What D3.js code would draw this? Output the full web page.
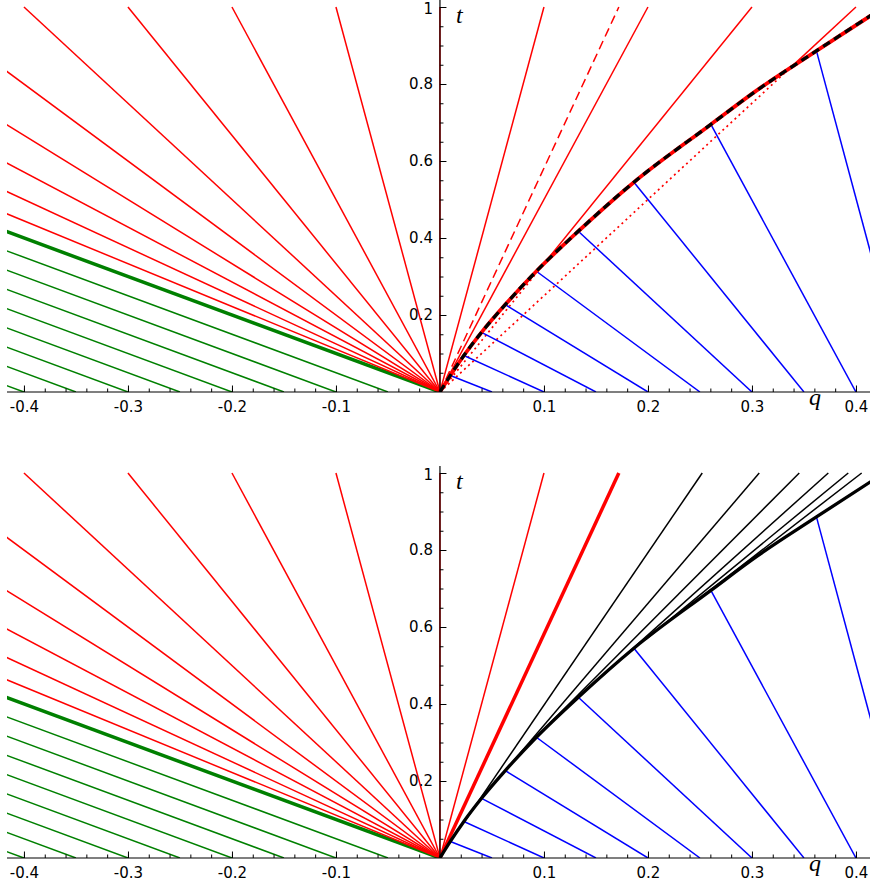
<!DOCTYPE html>
<html><head><meta charset="utf-8">
<script src="https://cdn.jsdelivr.net/npm/d3@7"></script>
<style>body{margin:0;background:#fff} svg{display:block}</style>
</head><body><svg id="c" width="870" height="888"></svg>
<script>
// ---------- data ----------
const xTickValues = [-0.4,-0.3,-0.2,-0.1,0.1,0.2,0.3,0.4];
const xTickLabels = ["-0.4","-0.3","-0.2","-0.1","0.1","0.2","0.3","0.4"];
const tTickValues = [0.2,0.4,0.6,0.8,1];
const tTickLabels = ["0.2","0.4","0.6","0.8","1"];

// green characteristics (foot on q axis -> point at t=1)
const greenFootX = [0,-0.05,-0.1,-0.15,-0.2,-0.25,-0.3,-0.35,-0.4];
const greenTopX  = [-1,-1.05,-1.1,-1.15,-1.2,-1.25,-1.3,-1.35,-1.4];

// red fan from origin, position reached at t=1
const fanTopX = [-0.9,-0.8,-0.7,-0.6,-0.5,-0.4,-0.3,-0.2,-0.1,0,0.1];
const topSolidTopX = [0.2];
const dashedTopX = [0.172];
// dotted rays from the origin up to the curve, then solid to t=1
const dottedMeetX = [0.099, 0.336];
const dottedMeetT = [0.33, 0.84];
const dottedTopX  = [0.3, 0.4];

// blue characteristics: foot on q axis -> point on the curve
const blueFootX = [0.05,0.1,0.15,0.2,0.25,0.3,0.35,0.4,0.45];
const blueEndX  = [0.0100,0.0230,0.0400,0.0628,0.0927,0.133,0.1865,0.2605,0.362];
const blueEndT  = [0.043,0.0948,0.155,0.227,0.3136,0.4175,0.545,0.695,0.886];

// curve (shock) points
const curveX = [0,0.0100,0.0230,0.0400,0.0628,0.0927,0.133,0.1865,0.2605,0.305,0.362,0.427];
const curveT = [0,0.043,0.0948,0.155,0.227,0.3136,0.4175,0.545,0.695,0.784,0.886,1.0];

// bottom panel
const boldRedTopX = [0.172];
const blackStartX = [0.0238,0.0574,0.1056,0.154,0.198,0.238];
const blackStartT = [0.0953,0.21,0.35,0.468,0.568,0.65];
const blackTopX   = [0.2522,0.307,0.3455,0.3734,0.3926,0.4055];

// ---------- drawing ----------
const svg = d3.select("#c");
const x = d3.scaleLinear().domain([-0.4163, 0.4135]).range([7, 870]);
const FONT = "'DejaVu Sans', sans-serif";

function seg(g, x0, t0, x1, t1, y, color, w, dash) {
  const l = g.append("line")
    .attr("x1", x(x0)).attr("y1", y(t0))
    .attr("x2", x(x1)).attr("y2", y(t1))
    .attr("stroke", color).attr("stroke-width", w);
  if (dash) l.attr("stroke-dasharray", dash);
  return l;
}

function panel(id, zeroY, drawContent) {
  const y = d3.scaleLinear().domain([0, 1]).range([zeroY, zeroY - 385]);
  const clipId = "clip" + id;
  svg.append("clipPath").attr("id", clipId).append("rect")
    .attr("x", 7).attr("y", y(1) - 3).attr("width", 870).attr("height", 385 + 3);
  const g = svg.append("g").attr("clip-path", `url(#${clipId})`);
  drawContent(g, y);

  // axes
  const ax = svg.append("g");
  const xMinor = d3.range(-40, 41, 2).map(v => v / 100);
  const tMinor = d3.range(1, 21).map(v => v / 20);
  const xa = ax.append("g").attr("transform", `translate(0,${y(0)})`);
  xa.call(d3.axisBottom(x).tickValues(xMinor).tickSizeInner(-3.5).tickSizeOuter(0).tickFormat(""));
  xa.call(g2 => g2.select(".domain").remove());
  const xa2 = ax.append("g").attr("transform", `translate(0,${y(0)})`);
  xa2.call(d3.axisBottom(x).tickValues(xTickValues).tickSizeInner(-6.5).tickSizeOuter(0).tickPadding(9)
      .tickFormat((d, i) => xTickLabels[i]));
  xa2.select(".domain").remove();
  const ya = ax.append("g").attr("transform", `translate(${x(0)},0)`);
  ya.call(d3.axisLeft(y).tickValues(tMinor).tickSizeInner(-3.5).tickSizeOuter(0).tickFormat(""));
  ya.select(".domain").remove();
  const ya2 = ax.append("g").attr("transform", `translate(${x(0)},0)`);
  ya2.call(d3.axisLeft(y).tickValues(tTickValues).tickSizeInner(-6.5).tickSizeOuter(0).tickPadding(7)
      .tickFormat((d, i) => tTickLabels[i]));
  ya2.select(".domain").remove();
  // keep the top label "1" fully inside the picture
  ya2.selectAll(".tick text").filter(d => d === 1).attr("dy", "0.42em");
  ax.selectAll(".tick line").attr("stroke", "#000").attr("stroke-width", 1);
  ax.selectAll(".tick text").attr("font-family", FONT).attr("font-size", 15).attr("fill", "#000");
  ax.append("line").attr("x1", 7).attr("x2", 870).attr("y1", y(0)).attr("y2", y(0))
    .attr("stroke", "#000").attr("stroke-width", 1.2);
  ax.append("line").attr("x1", x(0)).attr("x2", x(0)).attr("y1", y(0)).attr("y2", y(1.018))
    .attr("stroke", "#000").attr("stroke-width", 1.2);
  ax.append("text").attr("x", 456).attr("y", y(1.018) + 23)
    .attr("font-family", "'Liberation Serif', serif").attr("font-style", "italic")
    .attr("font-size", 24).text("t");
  ax.append("text").attr("x", 809).attr("y", y(0) + 13)
    .attr("font-family", "'Liberation Serif', serif").attr("font-style", "italic")
    .attr("font-size", 24).text("q");
}

const curveLine = (y) => d3.line()
  .x((d, i) => x(curveX[i])).y((d, i) => y(curveT[i]))
  .curve(d3.curveMonotoneX);

function common(g, y) {
  greenFootX.forEach((f, i) => seg(g, f, 0, greenTopX[i], 1, y, "#008000", i === 0 ? 3.5 : 1.5));
  fanTopX.forEach(c => seg(g, 0, 0, c, 1, y, "#ff0000", 1.5));
}
function blues(g, y) {
  blueFootX.forEach((f, i) => seg(g, f, 0, blueEndX[i], blueEndT[i], y, "#0000ff", 1.5));
}

panel("a", 392, (g, y) => {
  common(g, y);
  topSolidTopX.forEach(c => seg(g, 0, 0, c, 1, y, "#ff0000", 1.5));
  dashedTopX.forEach(c => seg(g, 0, 0, c, 1, y, "#ff0000", 1.5, "9,5"));
  dottedMeetX.forEach((mx, i) => {
    seg(g, 0, 0, mx, dottedMeetT[i], y, "#ff0000", 1.7, "2,3.5");
    seg(g, mx, dottedMeetT[i], dottedTopX[i], 1, y, "#ff0000", 1.5);
  });
  blues(g, y);
  g.append("path").attr("d", curveLine(y)(curveX)).attr("fill", "none")
    .attr("stroke", "#ff0000").attr("stroke-width", 3.8);
  g.append("path").attr("d", curveLine(y)(curveX)).attr("fill", "none")
    .attr("stroke", "#000").attr("stroke-width", 3.3).attr("stroke-dasharray", "8,5");
});

panel("b", 858, (g, y) => {
  common(g, y);
  boldRedTopX.forEach(c => seg(g, 0, 0, c, 1, y, "#ff0000", 3.5));
  blues(g, y);
  blackStartX.forEach((sx, i) => seg(g, sx, blackStartT[i], blackTopX[i], 1, y, "#000", 1.5));
  g.append("path").attr("d", curveLine(y)(curveX)).attr("fill", "none")
    .attr("stroke", "#000").attr("stroke-width", 3.3);
});
</script></body></html>
